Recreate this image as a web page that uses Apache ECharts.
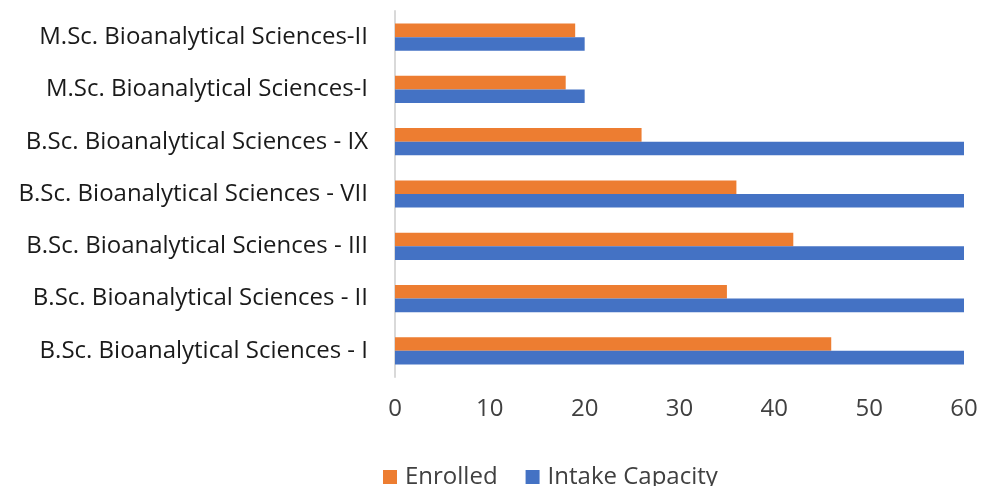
<!DOCTYPE html>
<html>
<head>
<meta charset="utf-8">
<script src="https://cdn.jsdelivr.net/npm/echarts@6/dist/echarts.min.js"></script>
<style>
  html, body { margin: 0; padding: 0; background: #fff; }
  #main { width: 982px; height: 486px; }
</style>
</head>
<body>
<div id="main"></div>
<script>
const categories = [
  "B.Sc. Bioanalytical Sciences - I",
  "B.Sc. Bioanalytical Sciences - II",
  "B.Sc. Bioanalytical Sciences - III",
  "B.Sc. Bioanalytical Sciences - VII",
  "B.Sc. Bioanalytical Sciences - IX",
  "M.Sc. Bioanalytical Sciences-I",
  "M.Sc. Bioanalytical Sciences-II"
];
const enrolled = [46, 35, 42, 36, 26, 18, 19];
const intakeCapacity = [60, 60, 60, 60, 60, 20, 20];

const font = "Open Sans";
const chart = echarts.init(document.getElementById("main"));
const option = {
  animation: false,
  textStyle: { fontFamily: font },
  legend: {
    data: ["Enrolled", "Intake Capacity"],
    top: 460,
    left: 378,
    itemWidth: 14,
    itemHeight: 14,
    itemGap: 28,
    icon: "rect",
    textStyle: { fontSize: 24, color: "#404040", fontFamily: font, padding: [0, 0, 0, 3] }
  },
  grid: {
    left: 395,
    right: 18,
    top: 11,
    bottom: 109,
    containLabel: false
  },
  xAxis: {
    type: "value",
    min: 0,
    max: 60,
    interval: 10,
    splitLine: { show: false },
    axisLine: { show: false },
    axisTick: { show: false },
    axisLabel: { fontSize: 24, color: "#404040", margin: 20, fontFamily: font }
  },
  yAxis: {
    type: "category",
    data: categories,
    axisLine: { show: true, lineStyle: { color: "#d9d9d9", width: 2 } },
    axisTick: { show: false },
    axisLabel: { fontSize: 24, color: "#1a1a1a", margin: 27, fontFamily: font }
  },
  series: [
    {
      name: "Enrolled",
      type: "bar",
      data: enrolled,
      barGap: "0%",
      barCategoryGap: "48%",
      itemStyle: { color: "#ED7D31" }
    },
    {
      name: "Intake Capacity",
      type: "bar",
      data: intakeCapacity,
      barGap: "0%",
      barCategoryGap: "48%",
      itemStyle: { color: "#4472C4" }
    }
  ]
};
chart.setOption(option);
</script>
</body>
</html>
